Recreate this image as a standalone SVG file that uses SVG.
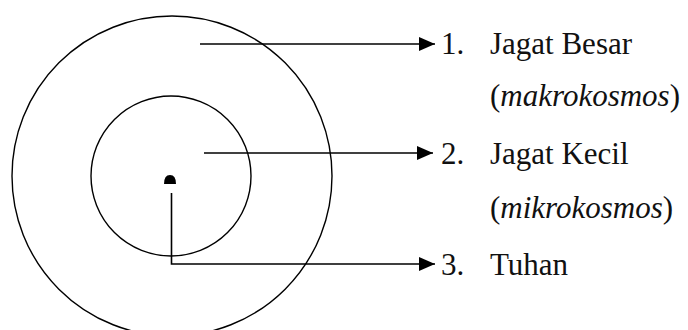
<svg xmlns="http://www.w3.org/2000/svg" width="688" height="330" viewBox="0 0 688 330">
<style>
.ring{fill:none;stroke:#000;stroke-width:1.4}
.conn{fill:none;stroke:#000;stroke-width:1.6}
.t{font-family:"Liberation Serif","Times New Roman",serif;font-size:31px;fill:#111}
.i{font-style:italic}
</style>
<defs>
<marker id="ah" markerUnits="userSpaceOnUse" markerWidth="16" markerHeight="14" refX="16" refY="7" orient="auto">
<path d="M0,0 L16,7 L0,14 Z" fill="#000"/>
</marker>
</defs>
<rect width="688" height="330" fill="#fff"/>
<g id="outer"><circle class="ring" cx="172" cy="176" r="160"/></g>
<g id="inner"><circle class="ring" cx="171" cy="176" r="80"/></g>
<g id="center"><path d="M164,184 Q164,175 170,175 Q176,175 176,184 Z" fill="#000"/></g>
<g id="connectors">
<path class="conn" d="M200,44 H435" marker-end="url(#ah)"/>
<path class="conn" d="M204,153 H433" marker-end="url(#ah)"/>
<path class="conn" d="M171.5,193 V264 H435" marker-end="url(#ah)"/>
</g>
<g id="label1">
<text class="t" x="441" y="54">1.</text>
<text class="t" x="490" y="54">Jagat Besar</text>
<text class="t" x="490" y="106">(<tspan class="i">makrokosmos</tspan>)</text>
</g>
<g id="label2">
<text class="t" x="441" y="164">2.</text>
<text class="t" x="490" y="164">Jagat Kecil</text>
<text class="t" x="490" y="218">(<tspan class="i">mikrokosmos</tspan>)</text>
</g>
<g id="label3">
<text class="t" x="441" y="275">3.</text>
<text class="t" x="490" y="275">Tuhan</text>
</g>
</svg>
